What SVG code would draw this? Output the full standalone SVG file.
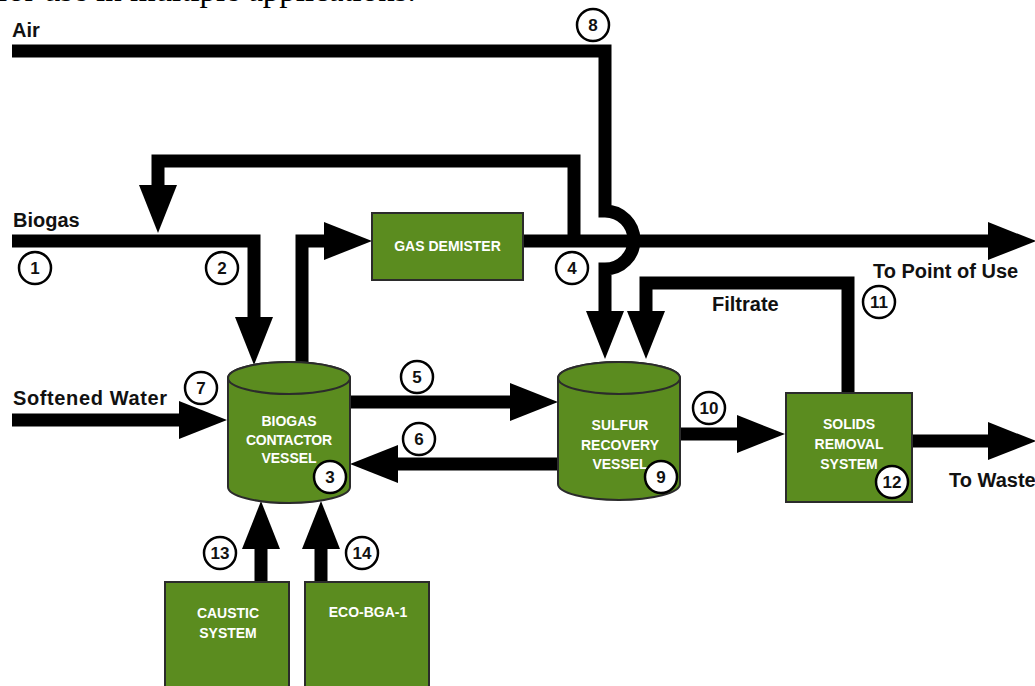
<svg xmlns="http://www.w3.org/2000/svg" width="1035" height="686" viewBox="0 0 1035 686">
<style>
.pipe{fill:none;stroke:#000;stroke-width:13;stroke-linejoin:miter;stroke-linecap:butt}
.box{fill:#5b8c1f;stroke:#2b2b2b;stroke-width:2}
.lbl{font-family:"Liberation Sans",Arial,sans-serif;font-weight:bold;font-size:20px;fill:#111}
.wt{font-family:"Liberation Sans",Arial,sans-serif;font-weight:bold;font-size:14px;fill:#fff;text-anchor:middle}
.num circle{fill:#fff;stroke:#000;stroke-width:2.5}
.num text{font-family:"Liberation Sans",Arial,sans-serif;font-weight:bold;font-size:17px;fill:#111;text-anchor:middle}
.top{font-family:"Liberation Serif","Times New Roman",serif;font-size:33px;fill:#000}
</style>
<defs>
<marker id="ah" markerUnits="userSpaceOnUse" markerWidth="50" markerHeight="40" refX="0" refY="19" orient="auto" overflow="visible">
<path d="M0,0 L48,19 L0,38 Z" fill="#000"/>
</marker>
</defs>
<rect width="1035" height="686" fill="#fff"/>
<text class="top" x="-3" y="0.5">for use in multiple applications.</text>

<g id="connectors">
<path class="pipe" d="M12,51 H605 V211 A29,29 0 0 1 605,269 V311" marker-end="url(#ah)"/>
<path class="pipe" d="M12,241 H254 V317" marker-end="url(#ah)"/>
<path class="pipe" d="M574,241 V161 H158 V185" marker-end="url(#ah)"/>
<path class="pipe" d="M302,364 V241 H324" marker-end="url(#ah)"/>
<path class="pipe" d="M523,241 H988" marker-end="url(#ah)"/>
<path class="pipe" d="M848,393 V283 H646 V311" marker-end="url(#ah)"/>
<path class="pipe" d="M12,420 H179" marker-end="url(#ah)"/>
<path class="pipe" d="M350,402 H510" marker-end="url(#ah)"/>
<path class="pipe" d="M558,464 H398" marker-end="url(#ah)"/>
<path class="pipe" d="M680,434 H737" marker-end="url(#ah)"/>
<path class="pipe" d="M912,441 H988" marker-end="url(#ah)"/>
<path class="pipe" d="M261,584 V549" marker-end="url(#ah)"/>
<path class="pipe" d="M321,584 V549" marker-end="url(#ah)"/>
</g>

<g id="labels">
<text class="lbl" x="12" y="37">Air</text>
<text class="lbl" x="13" y="227">Biogas</text>
<text class="lbl" x="13" y="405" textLength="154">Softened Water</text>
<text class="lbl" x="712" y="311">Filtrate</text>
<text class="lbl" x="873" y="278">To Point of Use</text>
<text class="lbl" x="949" y="487">To Waste</text>
</g>

<g id="gas-demister">
<rect class="box" x="372" y="213" width="151" height="67"/>
<text class="wt" x="447.5" y="251">GAS DEMISTER</text>
</g>

<g id="biogas-contactor">
<path class="box" d="M228,378 V487 A61,16 0 0 0 350,487 V378 A61,16 0 0 0 228,378 Z"/>
<ellipse class="box" cx="289" cy="378" rx="61" ry="16"/>
<text class="wt" x="289" y="426">BIOGAS</text>
<text class="wt" x="289" y="444.5" textLength="86">CONTACTOR</text>
<text class="wt" x="289" y="463">VESSEL</text>
</g>

<g id="sulfur-recovery">
<path class="box" d="M558,378 V484 A61,16 0 0 0 680,484 V378 A61,16 0 0 0 558,378 Z"/>
<ellipse class="box" cx="619" cy="378" rx="61" ry="16"/>
<text class="wt" x="620" y="430">SULFUR</text>
<text class="wt" x="620" y="450">RECOVERY</text>
<text class="wt" x="620" y="469">VESSEL</text>
</g>

<g id="solids-removal">
<rect class="box" x="786" y="393" width="126" height="109"/>
<text class="wt" x="849" y="429">SOLIDS</text>
<text class="wt" x="849" y="449">REMOVAL</text>
<text class="wt" x="849" y="469">SYSTEM</text>
</g>

<g id="caustic-system">
<rect class="box" x="165" y="582" width="124" height="110"/>
<text class="wt" x="228" y="618">CAUSTIC</text>
<text class="wt" x="228" y="638">SYSTEM</text>
</g>

<g id="eco-bga-1">
<rect class="box" x="305" y="582" width="124" height="110"/>
<text class="wt" x="368" y="617">ECO-BGA-1</text>
</g>

<g id="stream-numbers" class="num">
<g><circle cx="35" cy="268" r="16"/><text x="35" y="274">1</text></g>
<g><circle cx="222" cy="268" r="16"/><text x="222" y="274">2</text></g>
<g><circle cx="330" cy="477" r="16"/><text x="330" y="483">3</text></g>
<g><circle cx="572" cy="268" r="16"/><text x="572" y="274">4</text></g>
<g><circle cx="417" cy="377" r="16"/><text x="417" y="383">5</text></g>
<g><circle cx="419" cy="439" r="16"/><text x="419" y="445">6</text></g>
<g><circle cx="201" cy="388" r="16"/><text x="201" y="394">7</text></g>
<g><circle cx="593" cy="25" r="16"/><text x="593" y="31">8</text></g>
<g><circle cx="661" cy="477" r="16"/><text x="661" y="483">9</text></g>
<g><circle cx="709" cy="408" r="16"/><text x="709" y="414">10</text></g>
<g><circle cx="879" cy="302" r="16"/><text x="879" y="308">11</text></g>
<g><circle cx="892" cy="482" r="16"/><text x="892" y="488">12</text></g>
<g><circle cx="220" cy="553" r="16"/><text x="220" y="559">13</text></g>
<g><circle cx="362" cy="553" r="16"/><text x="362" y="559">14</text></g>
</g>
</svg>
